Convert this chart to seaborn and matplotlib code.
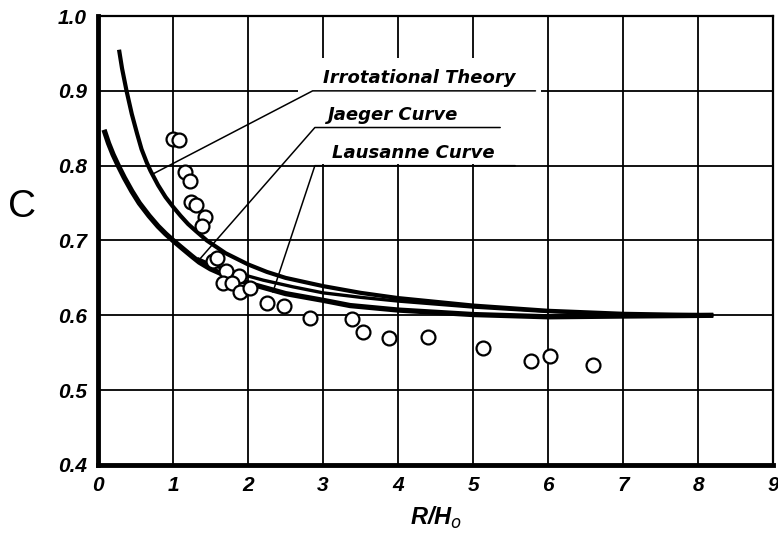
import numpy as np
import pandas as pd
import matplotlib
matplotlib.use("Agg")
import matplotlib.pyplot as plt
import seaborn as sns
from matplotlib.patches import Rectangle

# ---------------- data ----------------
irr_x = [0.28, 0.32, 0.38, 0.45, 0.52, 0.58, 0.65, 0.70, 0.80, 0.90, 1.00, 1.10, 1.20, 1.30, 1.45,
         1.70, 2.00, 2.25, 2.50, 3.00, 3.50, 4.00, 5.00, 6.00, 7.00, 8.20]
irr_c = [0.955, 0.930, 0.900, 0.869, 0.843, 0.822, 0.804, 0.793, 0.774, 0.758, 0.745, 0.733, 0.722, 0.713, 0.700,
         0.683, 0.668, 0.658, 0.650, 0.639, 0.630, 0.623, 0.613, 0.606, 0.602, 0.600]

jae_x = [1.32, 1.50, 1.80, 2.20, 2.60, 3.00, 3.50, 4.00, 5.00, 6.00, 7.00, 8.20]
jae_c = [0.676, 0.668, 0.658, 0.647, 0.638, 0.630, 0.624, 0.619, 0.611, 0.605, 0.601, 0.600]

lau_x = [0.08, 0.14, 0.20, 0.27, 0.35, 0.45, 0.55, 0.68, 0.80, 0.90, 1.00, 1.13, 1.25, 1.35, 1.50,
         1.75, 2.00, 2.50, 3.00, 3.36, 4.00, 5.00, 6.00, 7.00, 8.20]
lau_c = [0.848, 0.830, 0.815, 0.800, 0.784, 0.766, 0.750, 0.733, 0.719, 0.709, 0.700, 0.689, 0.679, 0.671, 0.662,
         0.651, 0.643, 0.629, 0.620, 0.613, 0.607, 0.601, 0.598, 0.599, 0.600]

pts_x = [1.00, 1.08, 1.16, 1.22, 1.24, 1.31, 1.43, 1.39, 1.53, 1.58, 1.71, 1.88, 1.67, 1.79, 1.89, 2.03,
         2.25, 2.48, 2.82, 3.39, 3.53, 3.88, 4.40, 5.13, 5.77, 6.03, 6.59]
pts_c = [0.835, 0.834, 0.791, 0.779, 0.751, 0.748, 0.731, 0.720, 0.672, 0.677, 0.659, 0.653, 0.643, 0.643, 0.631, 0.637,
         0.616, 0.613, 0.596, 0.595, 0.578, 0.569, 0.571, 0.556, 0.539, 0.545, 0.533]

x_ticks = [0, 1, 2, 3, 4, 5, 6, 7, 8, 9]
y_ticks = [0.4, 0.5, 0.6, 0.7, 0.8, 0.9, 1.0]
labels = ["Irrotational Theory", "Jaeger Curve", "Lausanne Curve"]

# ---------------- style ----------------
sns.set_style("white")
plt.rcParams["font.family"] = ["Liberation Sans", "DejaVu Sans"]
for key in ["text.color", "axes.labelcolor", "xtick.color", "ytick.color"]:
    plt.rcParams[key] = "black"

fig = plt.figure(figsize=(7.78, 5.35), dpi=100)
ax = fig.add_axes([0.126, 0.131, 0.868, 0.839])

ax.set_xlim(0, 9)
ax.set_ylim(0.4, 1.0)
ax.set_xticks(x_ticks)
ax.set_yticks(y_ticks)
ax.grid(True, color="black", linewidth=1.3)
ax.set_axisbelow(True)

# mask behind the labels (grid interrupted there)
ax.add_patch(Rectangle((2.66, 0.802), 5.90 - 2.66, 0.944 - 0.802,
                       facecolor="white", edgecolor="none", zorder=1))

curves = pd.concat([
    pd.DataFrame({"x": irr_x, "C": irr_c, "curve": labels[0]}),
    pd.DataFrame({"x": jae_x, "C": jae_c, "curve": labels[1]}),
    pd.DataFrame({"x": lau_x, "C": lau_c, "curve": labels[2]}),
])
widths = {labels[0]: 3.0, labels[1]: 2.4, labels[2]: 3.8}
for name, sub in curves.groupby("curve", sort=False):
    sns.lineplot(data=sub, x="x", y="C", ax=ax, color="black",
                 linewidth=widths[name], estimator=None, sort=False,
                 legend=False, zorder=3, solid_joinstyle="round",
                 solid_capstyle="butt")

pts = pd.DataFrame({"x": pts_x, "C": pts_c})
sns.scatterplot(data=pts, x="x", y="C", ax=ax, s=100, marker="o",
                facecolor="white", edgecolor="black", linewidth=1.6,
                zorder=4, legend=False)

# leader lines & labels
lab_font = dict(fontsize=13, fontweight="bold", fontstyle="italic",
                family=["DejaVu Sans"])
leaders = [
    ((0.733, 0.789), (2.86, 0.900), (5.83, 0.900), (3.00, 0.905)),
    ((1.32, 0.671), (2.89, 0.851), (5.36, 0.851), (3.07, 0.856)),
    ((2.33, 0.631), (2.89, 0.800), (5.56, 0.800), (3.12, 0.805)),
]
for lab, (p0, p1, p2, tp) in zip(labels, leaders):
    ax.plot([p0[0], p1[0], p2[0]], [p0[1], p1[1], p2[1]], color="black",
            linewidth=1.1, zorder=2)
    ax.text(tp[0], tp[1], lab, ha="left", va="bottom", zorder=5, **lab_font)

# spines
for side in ["left", "bottom"]:
    ax.spines[side].set_linewidth(3.5)
    ax.spines[side].set_color("black")
for side in ["top", "right"]:
    ax.spines[side].set_linewidth(1.6)
    ax.spines[side].set_color("black")

ax.tick_params(length=0, pad=8, colors="black")
ax.set_xticklabels([str(t) for t in x_ticks], fontsize=15,
                   fontweight="bold", fontstyle="italic")
ax.set_yticklabels([f"{t:.1f}" for t in y_ticks], fontsize=15,
                   fontweight="bold", fontstyle="italic")
ax.set_xlabel("")
ax.set_ylabel("")

fig.text(0.028, 0.613, "C", fontsize=28, ha="center", va="center", color="black")
fig.text(0.56, 0.032, r"R/H$_o$", fontsize=17, fontweight="bold",
         fontstyle="italic", ha="center", va="center", color="black")

fig.savefig("out.png", dpi=100)
